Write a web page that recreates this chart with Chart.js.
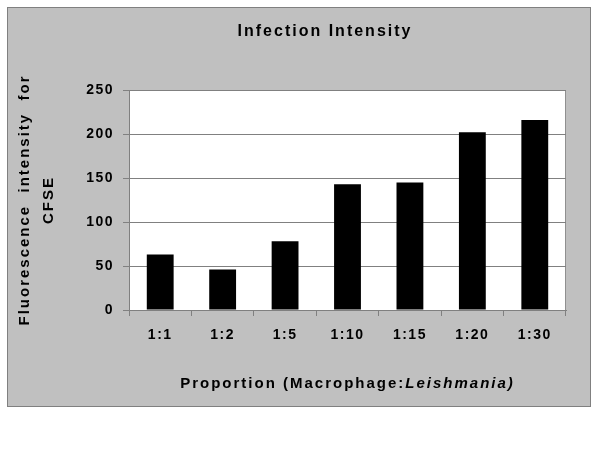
<!DOCTYPE html>
<html>
<head>
<meta charset="utf-8">
<script src="https://cdn.jsdelivr.net/npm/chart.js@4"></script>
<style>
  html, body { margin: 0; padding: 0; background: #ffffff; }
  #wrap { width: 600px; height: 450px; }
</style>
</head>
<body>
<div id="wrap"><canvas id="chart"></canvas></div>
<script>
// data
const proportions = ['1:1', '1:2', '1:5', '1:10', '1:15', '1:20', '1:30'];
const intensity = [63, 46, 78, 143, 145, 202, 216];
const yTicks = [0, 50, 100, 150, 200, 250];

const chartTitle = 'Infection Intensity';
const yTitleLines = ['Fluorescence  intensity  for', 'CFSE'];
const xTitlePlain = 'Proportion (Macrophage:';
const xTitleItalic = 'Leishmania)';

const FONT = '"Liberation Sans", Arial, sans-serif';

// gray frame, white plot area, and spaced-out text like the old Excel export
const excelLook = {
  id: 'excelLook',
  beforeLayout(chart) {
    chart.ctx.letterSpacing = '1.5px';
  },
  beforeDraw(chart) {
    const ctx = chart.ctx;
    const a = chart.chartArea;
    ctx.save();
    ctx.fillStyle = '#c0c0c0';
    ctx.fillRect(7, 7, 584, 400);
    ctx.strokeStyle = '#808080';
    ctx.lineWidth = 1;
    ctx.strokeRect(7.5, 7.5, 583, 399);
    ctx.fillStyle = '#ffffff';
    ctx.fillRect(a.left, a.top, a.right - a.left, a.bottom - a.top);
    ctx.strokeStyle = '#909090';
    ctx.strokeRect(a.left + 0.5, a.top + 0.5, a.right - a.left - 1, a.bottom - a.top);
    ctx.restore();
    ctx.letterSpacing = '1.5px';
  },
  afterDraw(chart) {
    const ctx = chart.ctx;
    const a = chart.chartArea;
    ctx.save();
    ctx.fillStyle = '#000000';
    ctx.textBaseline = 'middle';

    // main title
    ctx.letterSpacing = '2px';
    ctx.font = 'bold 16px ' + FONT;
    ctx.textAlign = 'center';
    ctx.fillText(chartTitle, 325, 32);

    // x axis title, mixed roman / italic
    ctx.font = 'bold 15px ' + FONT;
    const w1 = ctx.measureText(xTitlePlain).width;
    ctx.font = 'italic bold 15px ' + FONT;
    const w2 = ctx.measureText(xTitleItalic).width;
    const x0 = (a.left + a.right) / 2 - (w1 + w2) / 2;
    ctx.textAlign = 'left';
    ctx.font = 'bold 15px ' + FONT;
    ctx.fillText(xTitlePlain, x0, 384);
    ctx.font = 'italic bold 15px ' + FONT;
    ctx.fillText(xTitleItalic, x0 + w1, 384);

    // y axis title, two rotated lines
    ctx.font = 'bold 15px ' + FONT;
    ctx.textAlign = 'center';
    ctx.translate(0, 200);
    ctx.rotate(-Math.PI / 2);
    ctx.fillText(yTitleLines[0], 0, 25);
    ctx.fillText(yTitleLines[1], 0, 49);
    ctx.restore();
  }
};

new Chart(document.getElementById('chart'), {
  type: 'bar',
  data: {
    labels: proportions,
    datasets: [{
      data: intensity,
      backgroundColor: '#000000',
      borderWidth: 0,
      barPercentage: 0.43,
      categoryPercentage: 1.0
    }]
  },
  options: {
    responsive: true,
    maintainAspectRatio: false,
    animation: false,
    layout: { padding: { top: 90, right: 34, left: 0, bottom: 0 } },
    plugins: {
      legend: { display: false },
      title: { display: false },
      tooltip: { enabled: false }
    },
    scales: {
      x: {
        offset: true,
        afterFit(scale) { scale.height = 140; },
        grid: { drawOnChartArea: false, offset: true, tickLength: 6, color: '#808080' },
        border: { color: '#808080' },
        ticks: {
          color: '#000000',
          padding: 11,
          maxRotation: 0,
          font: { family: FONT, size: 14, weight: 'bold' }
        }
      },
      y: {
        min: 0,
        max: 250,
        afterFit(scale) { scale.width = 129; },
        afterBuildTicks(scale) { scale.ticks = yTicks.map(v => ({ value: v })); },
        grid: { color: '#808080', tickLength: 6 },
        border: { color: '#808080' },
        ticks: {
          color: '#000000',
          padding: 9,
          font: { family: FONT, size: 14, weight: 'bold' }
        }
      }
    }
  },
  plugins: [excelLook]
});
</script>
</body>
</html>
